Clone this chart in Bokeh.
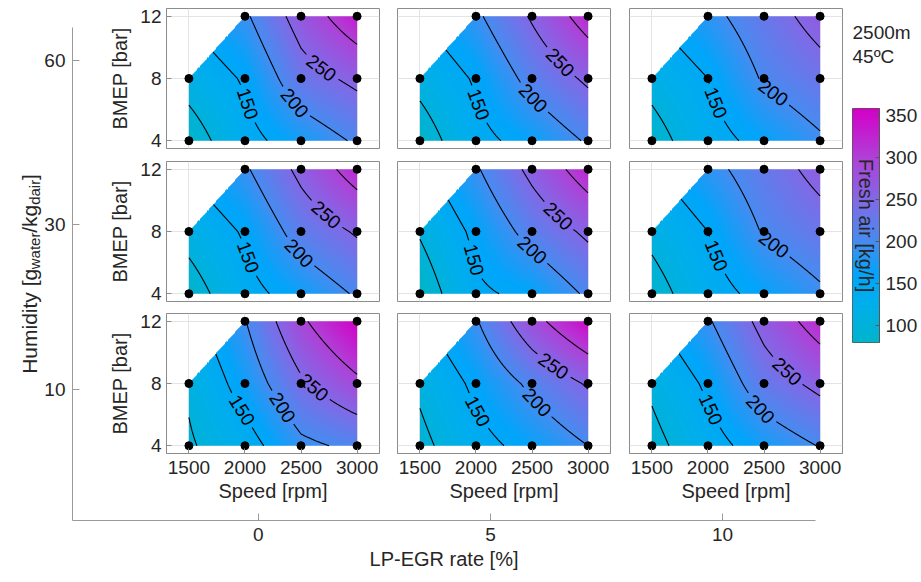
import numpy as np
from contourpy import contour_generator
from bokeh.plotting import figure
from bokeh.models import Range1d, FixedTicker, LinearColorMapper, Label
from bokeh.layouts import column
from bokeh.core.properties import value
from bokeh.embed import file_html
from bokeh.resources import INLINE

FONT = "Liberation Sans"
TXT = "#262626"

# ---------------- data ----------------
speed = [1500, 2000, 2500, 3000, 1500, 2000, 2500, 3000, 2000, 2500, 3000]
bmep = [4, 4, 4, 4, 8, 8, 8, 8, 12, 12, 12]

humidity_rows = [60, 30, 10]      # top -> bottom
egr_cols = [0, 5, 10]             # left -> right

air_h60_egr0 = [76, 136, 171, 206, 118, 155, 230, 261, 193, 271, 332]
air_h60_egr5 = [75, 138, 165, 205, 114, 155, 215, 258, 192, 255, 322]
air_h60_egr10 = [80, 134, 163, 194, 115, 150, 205, 232, 186, 228, 268]
air_h30_egr0 = [78, 136, 168, 205, 116, 155, 220, 255, 194, 262, 322]
air_h30_egr5 = [72, 143, 160, 207, 104, 160, 217, 259, 195, 262, 325]
air_h30_egr10 = [80, 133, 163, 193, 112, 150, 204, 230, 185, 226, 265]
air_h10_egr0 = [95, 130, 190, 210, 106, 170, 243, 290, 198, 292, 358]
air_h10_egr5 = [88, 135, 165, 200, 108, 160, 210, 255, 196, 283, 350]
air_h10_egr10 = [86, 132, 172, 202, 108, 158, 226, 262, 195, 265, 322]

panel_values = [
    [air_h60_egr0, air_h60_egr5, air_h60_egr10],
    [air_h30_egr0, air_h30_egr5, air_h30_egr10],
    [air_h10_egr0, air_h10_egr5, air_h10_egr10],
]

contour_levels = [100, 150, 200, 250, 300]
label_levels = [150, 200, 250]
speed_ticks = [1500, 2000, 2500, 3000]
bmep_ticks = [4, 8, 12]
cbar_ticks = [100, 150, 200, 250, 300, 350]
cbar_low, cbar_high = 80, 358

# ---------------- colour map ----------------
cmap_pos = [0.0, 0.16, 0.29, 0.43, 0.61, 0.79, 1.0]
cmap_rgb = [(0, 180, 205), (0, 175, 235), (0, 165, 250), (70, 140, 240),
            (130, 105, 230), (175, 65, 215), (212, 0, 200)]
palette = []
for t in np.linspace(0, 1, 256):
    rgb = [int(round(np.interp(t, cmap_pos, [c[i] for c in cmap_rgb]))) for i in range(3)]
    palette.append("#%02x%02x%02x" % tuple(rgb))
mapper = LinearColorMapper(palette=palette, low=cbar_low, high=cbar_high,
                           low_color=palette[0], high_color=palette[-1],
                           nan_color=(255, 255, 255, 0.0))

# ---------------- geometry ----------------
# every figure gets the same borders so that the column's frame alignment is a no-op
BL, BR, BT, BB = 75, 103, 27, 62
PAGE_W, PAGE_H = 921, 582
FW, FH = 213, 140
col_left = [166, 397, 629]
row_top = [8, 161, 313]
x_lo, x_hi = 1300, 3200
y_lo, y_hi = 3.5, 12.5

xs = np.linspace(min(speed), max(speed), 301)
ys = np.linspace(min(bmep), max(bmep), 321)


def base_figure(fw, fh, left, top, **kw):
    p = figure(width=BL + fw + BR, height=BT + fh + BB, output_backend="svg",
               toolbar_location=None, title=None,
               min_border_left=BL, min_border_right=BR, min_border_top=BT, min_border_bottom=BB, **kw)
    p.border_fill_alpha = 0
    p.styles = {"position": "absolute", "left": f"{left - BL}px", "top": f"{top - BT}px"}
    return p


def field(vals):
    S = sorted(set(speed))
    B = sorted(set(bmep))
    node = {(s, b): v for s, b, v in zip(speed, bmep, vals)}
    X, Y = np.meshgrid(xs, ys)
    Z = np.full(X.shape, np.nan)
    for i in range(len(S) - 1):
        for j in range(len(B) - 1):
            s0, s1, b0, b1 = S[i], S[i + 1], B[j], B[j + 1]
            m = (X >= s0) & (X <= s1) & (Y >= b0) & (Y <= b1)
            u = (X[m] - s0) / (s1 - s0)
            t = (Y[m] - b0) / (b1 - b0)
            c = [node.get(k) for k in [(s0, b0), (s1, b0), (s0, b1), (s1, b1)]]
            if None not in c:
                Z[m] = c[0] * (1 - u) * (1 - t) + c[1] * u * (1 - t) + c[2] * (1 - u) * t + c[3] * u * t
            elif c[2] is None:
                val = (1 - u) * c[0] + (u - t) * c[1] + t * c[3]
                Z[m] = np.where(t <= u + 1e-9, val, np.nan)
    return Z


def to_screen(pts):
    return np.column_stack([(pts[:, 0] - x_lo) / (x_hi - x_lo) * FW,
                            (pts[:, 1] - y_lo) / (y_hi - y_lo) * FH])


def to_data(px, py):
    return x_lo + px / FW * (x_hi - x_lo), y_lo + py / FH * (y_hi - y_lo)


def contour_level(Z, level, labelled, frac=0.6, gap=20):
    gen = contour_generator(xs, ys, np.ma.masked_invalid(Z))
    lines = [ln for ln in gen.lines(level) if len(ln) > 1]
    scr = [to_screen(ln) for ln in lines]
    lab = None
    if labelled and scr:
        lens = [np.hypot(*np.diff(P, axis=0).T).sum() for P in scr]
        k = int(np.argmax(lens))
        P = scr[k]
        if P[0, 1] < P[-1, 1]:
            P = P[::-1]
            scr[k] = P
        d = np.r_[0, np.cumsum(np.hypot(*np.diff(P, axis=0).T))]
        if d[-1] > 2 * gap + 10:
            tg = frac * d[-1]
            cx, cy = np.interp(tg, d, P[:, 0]), np.interp(tg, d, P[:, 1])
            x0, y0 = np.interp(tg - 10, d, P[:, 0]), np.interp(tg - 10, d, P[:, 1])
            x1, y1 = np.interp(tg + 10, d, P[:, 0]), np.interp(tg + 10, d, P[:, 1])
            ang = np.arctan2(y1 - y0, x1 - x0)
            if ang > np.pi / 2:
                ang -= np.pi
            if ang < -np.pi / 2:
                ang += np.pi
            lab = (cx, cy, ang)
    seg_x, seg_y = [], []
    for P in scr:
        keep = np.ones(len(P), bool) if lab is None else np.hypot(P[:, 0] - lab[0], P[:, 1] - lab[1]) > gap
        idx = np.where(keep)[0]
        if len(idx) == 0:
            continue
        runs = np.split(idx, np.where(np.diff(idx) != 1)[0] + 1)
        for r in runs:
            if len(r) > 1:
                dx, dy = to_data(P[r, 0], P[r, 1])
                seg_x.append(list(dx))
                seg_y.append(list(dy))
    lab_d = None
    if lab is not None:
        lx, ly = to_data(lab[0], lab[1])
        lab_d = (lx, ly, lab[2])
    return seg_x, seg_y, lab_d


def style_axis(ax, size="19px"):
    ax.major_label_text_font = FONT
    ax.major_label_text_font_size = size
    ax.major_label_text_color = TXT
    ax.axis_label_text_font = FONT
    ax.axis_label_text_font_size = "20px"
    ax.axis_label_text_font_style = "normal"
    ax.axis_label_text_color = TXT
    ax.minor_tick_line_color = None


def make_panel(vals, r, c):
    is_left = c == 0
    is_bottom = r == len(humidity_rows) - 1
    p = base_figure(FW, FH, col_left[c], row_top[r],
                    x_range=Range1d(x_lo, x_hi), y_range=Range1d(y_lo, y_hi),
                    x_axis_location="below" if is_bottom else None,
                    y_axis_location="left" if is_left else None)
    p.background_fill_color = "white"
    p.outline_line_color = "#8C8C8C"
    p.outline_line_width = 1
    p.xgrid.ticker = FixedTicker(ticks=speed_ticks)
    p.ygrid.ticker = FixedTicker(ticks=bmep_ticks)
    p.grid.grid_line_color = "#E4E4E4"
    if is_bottom:
        p.xaxis.ticker = FixedTicker(ticks=speed_ticks)
        p.xaxis.axis_label = "Speed [rpm]"
        style_axis(p.xaxis[0])
        p.xaxis.major_label_standoff = 7
        p.xaxis.axis_label_standoff = 3
    if is_left:
        p.yaxis.ticker = FixedTicker(ticks=bmep_ticks)
        p.yaxis.axis_label = "BMEP [bar]"
        style_axis(p.yaxis[0])
        p.yaxis.major_label_standoff = 5
        p.yaxis.axis_label_standoff = 6
    for ax in p.axis:
        ax.axis_line_color = "#8C8C8C"
        ax.major_tick_line_color = "#8C8C8C"
        ax.major_tick_in = 5
        ax.major_tick_out = 0

    Z = field(vals)
    p.image(image=[Z], x=xs[0], y=ys[0], dw=xs[-1] - xs[0], dh=ys[-1] - ys[0],
            color_mapper=mapper)
    all_x, all_y, lx, ly, lt, la = [], [], [], [], [], []
    for lev in contour_levels:
        sx, sy, lab = contour_level(Z, lev, lev in label_levels)
        all_x += sx
        all_y += sy
        if lab is not None:
            lx.append(lab[0]); ly.append(lab[1]); la.append(lab[2]); lt.append(str(lev))
    p.multi_line(xs=all_x, ys=all_y, line_color="black", line_width=1.1)
    p.text(x=lx, y=ly, text=lt, angle=la, text_align="center", text_baseline="middle",
           text_font=value(FONT), text_font_size="19px", text_color="black")
    p.scatter(speed, bmep, size=8, color="black")
    return p


# ---------------- background (outer axes) ----------------
OUT_L, OUT_T, OUT_R, OUT_B = 72, 27, 818, 522
bx_lo, bx_hi = -4, 12
by_lo, by_hi = -0.8, 2.2
bg = base_figure(OUT_R - OUT_L, OUT_B - OUT_T, OUT_L, OUT_T,
                 x_range=Range1d(bx_lo, bx_hi), y_range=Range1d(by_lo, by_hi))
bg.outline_line_color = None
bg.background_fill_alpha = 0
bg.grid.visible = False
bg.xaxis.ticker = FixedTicker(ticks=egr_cols)
bg.xaxis.axis_label = "LP-EGR rate [%]"
hum_pos = list(range(len(humidity_rows)))
bg.yaxis.ticker = FixedTicker(ticks=hum_pos)
bg.yaxis.major_label_overrides = {i: str(h) for i, h in zip(hum_pos, humidity_rows[::-1])}
for ax in bg.axis:
    style_axis(ax)
    ax.axis_line_color = "#9A9A9A"
    ax.major_tick_line_color = "#9A9A9A"
    ax.major_tick_in = 7
    ax.major_tick_out = 0
    ax.major_label_standoff = 7
bg.xaxis.axis_label_standoff = 4

# ---------------- humidity label (with subscripts) ----------------
HL_L, HL_W = 2, 45
hl = base_figure(HL_W, OUT_B - OUT_T, HL_L, OUT_T,
                 x_range=Range1d(0, HL_W), y_range=Range1d(0, OUT_B - OUT_T),
                 x_axis_location=None, y_axis_location=None)
hl.outline_line_color = None
hl.background_fill_alpha = 0
hl.grid.visible = False
char_w = {"H": .722, "u": .556, "m": .833, "i": .222, "d": .556, "t": .278, "y": .5, " ": .278,
          "[": .278, "g": .556, "w": .722, "a": .556, "e": .556, "r": .333, "/": .278, "k": .5, "]": .278}
hum_pieces = [("Humidity [g", 21, 0), ("water", 15, 1), ("/kg", 21, 0), ("dair", 15, 1), ("]", 21, 0)]
widths = [sum(char_w[ch] for ch in s) * fs for s, fs, _ in hum_pieces]
pos = (OUT_B - OUT_T) / 2 - sum(widths) / 2
for (s, fs, sub), w in zip(hum_pieces, widths):
    hl.add_layout(Label(x=27 + (5 if sub else 0), y=pos, text=s, angle=np.pi / 2, text_align="left",
                        text_baseline="alphabetic", text_font=FONT, text_font_size=f"{fs}px",
                        text_color=TXT))
    pos += w

# ---------------- colour bar ----------------
CB_X, CB_Y, CB_W, CB_H = 852, 108, 27, 234
cb = base_figure(CB_W, CB_H, CB_X, CB_Y,
                 x_range=Range1d(0, 1), y_range=Range1d(cbar_low, cbar_high),
                 x_axis_location=None, y_axis_location="right")
cb.grid.visible = False
cb.outline_line_color = "#555555"
grad = np.linspace(cbar_low, cbar_high, 256).reshape(-1, 1)
cb.image(image=[grad], x=0, y=cbar_low, dw=1, dh=cbar_high - cbar_low, color_mapper=mapper)
cb.yaxis.ticker = FixedTicker(ticks=cbar_ticks)
style_axis(cb.yaxis[0])
cb.yaxis.axis_line_color = "#555555"
cb.yaxis.major_tick_line_color = "#555555"
cb.yaxis.major_tick_in = 4
cb.yaxis.major_tick_out = 0
cb.yaxis.major_label_standoff = 6
cb.add_layout(Label(x=0.5, y=(cbar_low + cbar_high) / 2, text="Fresh air [kg/h]", angle=-np.pi / 2,
                    text_align="center", text_baseline="middle", text_font=FONT,
                    text_font_size="20px", text_color=TXT))

# ---------------- condition note (top right) ----------------
NT_X, NT_Y, NT_W, NT_H = 850, 15, 70, 55
nt = base_figure(NT_W, NT_H, NT_X, NT_Y, x_range=Range1d(0, NT_W), y_range=Range1d(0, NT_H),
                 x_axis_location=None, y_axis_location=None)
nt.outline_line_color = None
nt.background_fill_alpha = 0
nt.grid.visible = False
for txt, yy in [("2500m", NT_H - 17), ("45ºC", NT_H - 41)]:
    nt.add_layout(Label(x=2, y=yy, text=txt, text_align="left", text_baseline="middle",
                        text_font=FONT, text_font_size="19px", text_color=TXT))

panels = [make_panel(panel_values[r][c], r, c) for r in range(3) for c in range(3)]

root = column(bg, hl, *panels, cb, nt, width=PAGE_W, height=PAGE_H,
              styles={"position": "relative", "overflow": "hidden"})
open("out.html", "w").write(file_html(root, INLINE))
